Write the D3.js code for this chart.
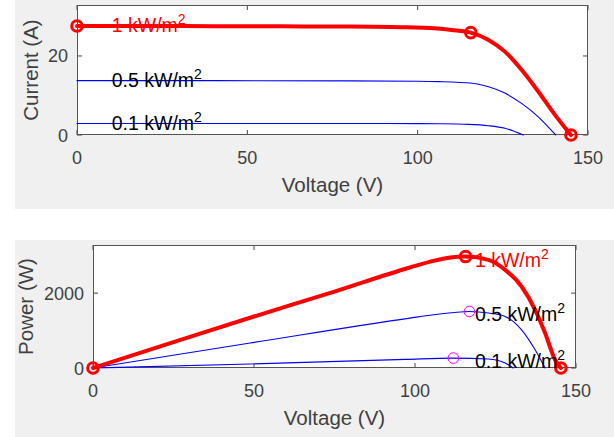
<!DOCTYPE html>
<html>
<head>
<meta charset="utf-8">
<script src="https://cdn.jsdelivr.net/npm/d3@7"></script>
<style>
  body { margin: 0; background: #fff; }
  svg { display: block; font-family: "Liberation Sans", Arial, sans-serif; }
</style>
</head>
<body>
<script>
// I-V curves (volts, amps)
let iv1V = [0, 20, 40, 60, 80, 95, 105, 110, 115.6, 120.8, 125.6, 130.5, 135.4, 140.3, 145];
let iv1I = [27.6, 27.6, 27.55, 27.5, 27.45, 27.3, 27.0, 26.6, 25.9, 24.05, 21.1, 16.5, 11.0, 5.1, 0];
let iv05V = [0, 40, 80, 100, 106, 116, 120.8, 125.6, 130.5, 135.4, 140.5];
let iv05I = [13.75, 13.75, 13.7, 13.6, 13.5, 13.1, 12.2, 10.6, 8.0, 4.6, 0];
let iv01V = [0, 40, 80, 100, 106, 115, 120.8, 125.6, 131];
let iv01I = [2.9, 2.9, 2.9, 2.88, 2.85, 2.7, 2.36, 1.7, 0];

// P-V curves (volts, watts)
let pv1V = [0, 25, 50, 75, 98.4, 105.7, 111, 115.7, 122.8, 128, 133.1, 137.3, 140.4, 143.5, 145.3];
let pv1P = [0, 690, 1376, 2040, 2683, 2861, 2950, 2976, 2888, 2621, 2176, 1555, 933, 221, 0];
let pv05V = [0, 48.8, 98.4, 105.7, 116.9, 122.8, 128, 133.1, 137.3, 140.4];
let pv05P = [0, 667, 1333, 1421, 1509, 1467, 1376, 1021, 488, 0];
let pv01V = [0, 48.8, 97, 111.9, 122.8, 128, 130.5];
let pv01P = [0, 107, 230, 265, 240, 133, 0];

// markers
let ivRedMarks = [[0, 27.6], [115.6, 25.9], [145, 0]];
let pvRedMarks = [[0, 0], [115.7, 2976], [145.3, 0]];
let pvMagMarks = [[116.9, 1509], [111.9, 265]];

// labels
let irrLabels = ["1 kW/m", "0.5 kW/m", "0.1 kW/m"];
let ivLabelV = [10.2, 10.2, 10.2];
let ivLabelI = [27.6, 13.75, 2.9];
let pvLabelV = [118.6, 118.6, 118.6];
let pvLabelP = [2976, 1509, 265];

let xTicks = [0, 50, 100, 150];
let ivYTicks = [0, 20];
let pvYTicks = [0, 2000];

let W = 614, H = 437;
let svg = d3.select("body").append("svg").attr("width", W).attr("height", H);

// figure backgrounds
svg.append("rect").attr("x", 15).attr("y", 0).attr("width", W - 15).attr("height", 209).attr("fill", "#f0f0f0");
svg.append("rect").attr("x", 15).attr("y", 240).attr("width", W - 15).attr("height", H - 240).attr("fill", "#f0f0f0");

function zip(a, b) { return a.map((v, i) => [v, b[i]]); }

function drawAxes(cfg) {
  let x = d3.scaleLinear().domain([0, 150]).range([cfg.left, cfg.right]);
  let y = d3.scaleLinear().domain(cfg.yDomain).range([cfg.bottom, cfg.top]);
  let g = svg.append("g");

  g.append("rect")
    .attr("x", cfg.left).attr("y", cfg.top)
    .attr("width", cfg.right - cfg.left).attr("height", cfg.bottom - cfg.top)
    .attr("fill", "#fff");

  let clipId = "clip" + cfg.id;
  svg.append("clipPath").attr("id", clipId)
    .append("rect").attr("x", cfg.left - 8).attr("y", cfg.top - 8)
    .attr("width", cfg.right - cfg.left + 16).attr("height", cfg.bottom - cfg.top + 16);

  // ticks inward, on all 4 sides
  let tl = 5;
  xTicks.forEach(t => {
    g.append("line").attr("x1", x(t)).attr("x2", x(t)).attr("y1", cfg.bottom).attr("y2", cfg.bottom - tl).attr("stroke", "#444");
    g.append("line").attr("x1", x(t)).attr("x2", x(t)).attr("y1", cfg.top).attr("y2", cfg.top + tl).attr("stroke", "#444");
    g.append("text").attr("x", x(t)).attr("y", cfg.bottom + 29)
      .attr("text-anchor", "middle").attr("font-size", 18).attr("fill", "#404040").text(t);
  });
  cfg.yTicks.forEach(t => {
    g.append("line").attr("x1", cfg.left).attr("x2", cfg.left + tl).attr("y1", y(t)).attr("y2", y(t)).attr("stroke", "#444");
    g.append("line").attr("x1", cfg.right).attr("x2", cfg.right - tl).attr("y1", y(t)).attr("y2", y(t)).attr("stroke", "#444");
    g.append("text").attr("x", cfg.left - 9).attr("y", y(t) + 6.5)
      .attr("text-anchor", "end").attr("font-size", 18).attr("fill", "#404040").text(t);
  });

  g.append("rect")
    .attr("x", cfg.left + 0.5).attr("y", cfg.top + 0.5)
    .attr("width", cfg.right - cfg.left - 1).attr("height", cfg.bottom - cfg.top - 1)
    .attr("fill", "none").attr("stroke", "#555").attr("stroke-width", 1);

  g.append("text").attr("x", (cfg.left + cfg.right) / 2).attr("y", cfg.bottom + 57)
    .attr("text-anchor", "middle").attr("font-size", 20.5).attr("fill", "#404040").text("Voltage (V)");
  g.append("text")
    .attr("transform", "translate(" + (cfg.ylabX) + "," + ((cfg.top + cfg.bottom) / 2) + ") rotate(-90)")
    .attr("text-anchor", "middle").attr("font-size", 20.5).attr("fill", "#404040").text(cfg.ylabel);

  let line = d3.line().x(d => x(d[0])).y(d => y(d[1])).curve(d3.curveMonotoneX);
  let plot = g.append("g").attr("clip-path", "url(#" + clipId + ")");

  cfg.series.forEach(s => {
    plot.append("path").datum(s.pts).attr("d", line)
      .attr("fill", "none").attr("stroke", s.color).attr("stroke-width", s.w)
      .attr("stroke-linejoin", "round").attr("stroke-linecap", "round");
  });

  cfg.marks.forEach(m => {
    m.pts.forEach(p => {
      plot.append("circle").attr("cx", x(p[0])).attr("cy", y(p[1])).attr("r", m.r)
        .attr("fill", "none").attr("stroke", m.color).attr("stroke-width", m.w);
    });
  });

  cfg.labels.forEach((l, i) => {
    let t = g.append("text").attr("x", x(l.v)).attr("y", y(l.val) + l.dy)
      .attr("font-size", 19.5).attr("fill", l.color);
    t.append("tspan").text(l.text);
    t.append("tspan").attr("dy", -8).attr("font-size", 14).text("2");
  });
}

drawAxes({
  id: "iv", left: 77, right: 588, top: 5, bottom: 135, yDomain: [0, 32.9],
  yTicks: ivYTicks, ylabel: "Current (A)", ylabX: 38,
  series: [
    { pts: zip(iv05V, iv05I), color: "#0000ff", w: 1.1 },
    { pts: zip(iv01V, iv01I), color: "#0000ff", w: 1.1 },
    { pts: zip(iv1V, iv1I), color: "#ff0000", w: 4 }
  ],
  marks: [{ pts: ivRedMarks, color: "#ff0000", r: 5.3, w: 3 }],
  labels: irrLabels.map((t, i) => ({ text: t, v: ivLabelV[i], val: ivLabelI[i], dy: 6, color: i === 0 ? "#ff0000" : "#000" }))
});

drawAxes({
  id: "pv", left: 93, right: 576, top: 245, bottom: 368, yDomain: [0, 3285],
  yTicks: pvYTicks, ylabel: "Power (W)", ylabX: 33,
  series: [
    { pts: zip(pv05V, pv05P), color: "#0000ff", w: 1.1 },
    { pts: zip(pv01V, pv01P), color: "#0000ff", w: 1.1 },
    { pts: zip(pv1V, pv1P), color: "#ff0000", w: 4 }
  ],
  marks: [
    { pts: pvMagMarks, color: "#ff00ff", r: 5.3, w: 1 },
    { pts: pvRedMarks, color: "#ff0000", r: 5.3, w: 3 }
  ],
  labels: irrLabels.map((t, i) => ({ text: t, v: pvLabelV[i], val: pvLabelP[i], dy: 10, color: i === 0 ? "#ff0000" : "#000" }))
});
</script>
</body>
</html>
